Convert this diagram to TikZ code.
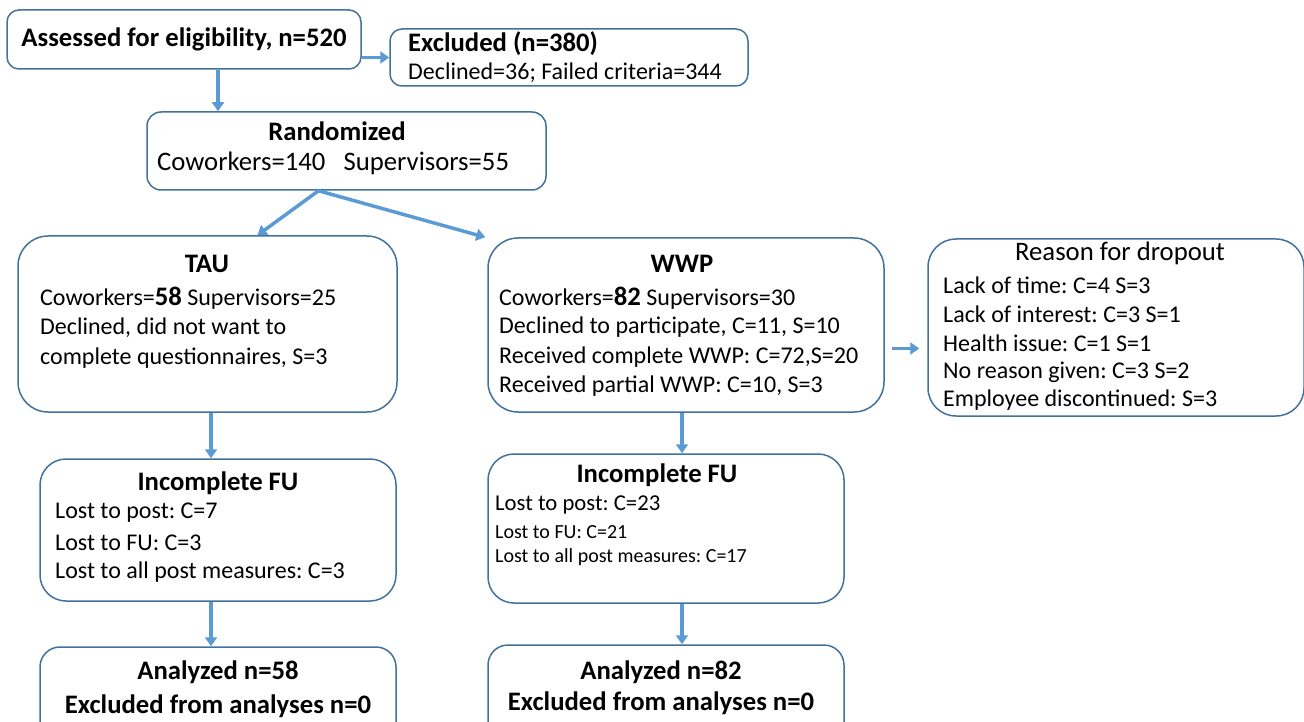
\documentclass[tikz,border=0pt]{standalone}
\usepackage{fontspec}
\setmainfont{Carlito}
\usetikzlibrary{arrows.meta,positioning,calc}
\frenchspacing

\definecolor{boxblue}{HTML}{41719C}
\definecolor{arrowblue}{HTML}{5B9BD5}
\newcommand{\bodyfont}{\fontsize{24}{30}\selectfont}
\newcommand{\headfont}{\fontsize{26.7}{32}\selectfont\bfseries}

\tikzset{
  box/.style={draw=boxblue, line width=1.5pt, fill=white, inner sep=0pt},
  arr/.style={-{Triangle[length=9pt,width=12pt]}, line width=3.5pt, arrowblue},
  txt/.style={inner sep=0pt, anchor=west, font=\bodyfont},
  ttl/.style={inner sep=0pt, font=\headfont}
}

\begin{document}
\begin{tikzpicture}[x=1pt,y=-1pt]
    \useasboundingbox (0,0) rectangle (1304,722);

    % Assessed
    \node[box, rounded corners=12pt, minimum width=354pt, minimum height=59pt, font=\headfont] (assess) at (184,39.5) {Assessed for eligibility, n=520};

    % Excluded
    \node[box, rounded corners=12pt, minimum width=358pt, minimum height=57pt] (excl) at (569,57.5) {};
    \node[ttl, anchor=west] (excl-t) at (408,44) {Excluded (n=380)};
    \node[txt] (excl-1) at (408,73) {Declined=36; Failed criteria=344};

    % Randomized
    \node[box, rounded corners=14pt, minimum width=399pt, minimum height=78pt] (rand) at (346.5,151) {};
    \node[ttl] (rand-t) at (337,131) {Randomized};
    \node[txt, font=\fontsize{26.7}{32}\selectfont] (rand-1) at (157,163) {Coworkers=140\ \ \ Supervisors=55};

    % TAU
    \node[box, rounded corners=30pt, minimum width=379pt, minimum height=176pt] (tau) at (207.5,324) {};
    \node[ttl] (tau-t) at (207,264) {TAU};
    \node[txt] (tau-1) at (40,298) {Coworkers={\headfont 58} Supervisors=25};
    \node[txt] (tau-2) at (40,328) {Declined, did not want to};
    \node[txt] (tau-3) at (40,358) {complete questionnaires, S=3};

    % WWP
    \node[box, rounded corners=30pt, minimum width=396pt, minimum height=174pt] (wwp) at (686,325) {};
    \node[ttl] (wwp-t) at (682,264) {WWP};
    \node[txt] (wwp-1) at (499,298) {Coworkers={\headfont 82} Supervisors=30};
    \node[txt] (wwp-2) at (499,327) {Declined to participate, C=11, S=10};
    \node[txt] (wwp-3) at (499,357) {Received complete WWP: C=72,S=20};
    \node[txt] (wwp-4) at (499,386) {Received partial WWP: C=10, S=3};

    % Reason for dropout
    \node[box, rounded corners=28pt, minimum width=376pt, minimum height=177pt] (reason) at (1116,327.5) {};
    \node[inner sep=0pt, font=\fontsize{26.7}{32}\selectfont] (reason-t) at (1120,253) {Reason for dropout};
    \node[txt] (reason-1) at (943,285) {Lack of time: C=4 S=3};
    \node[txt] (reason-2) at (943,314) {Lack of interest: C=3 S=1};
    \node[txt] (reason-3) at (943,343) {Health issue: C=1 S=1};
    \node[txt] (reason-4) at (943,372) {No reason given: C=3 S=2};
    \node[txt] (reason-5) at (943,400) {Employee discontinued: S=3};

    % Incomplete FU, TAU
    \node[box, rounded corners=26pt, minimum width=356pt, minimum height=142pt] (fuL) at (218,530) {};
    \node[ttl] (fuL-t) at (218,483) {Incomplete FU};
    \node[txt] (fuL-1) at (55,513) {Lost to post: C=7};
    \node[txt] (fuL-2) at (55,543) {Lost to FU: C=3};
    \node[txt] (fuL-3) at (55,572) {Lost to all post measures: C=3};

    % Incomplete FU, WWP
    \node[box, rounded corners=26pt, minimum width=356pt, minimum height=149pt] (fuR) at (666,528.5) {};
    \node[ttl] (fuR-t) at (657,475) {Incomplete FU};
    \node[txt, font=\fontsize{22.7}{28}\selectfont] (fuR-1) at (495,505) {Lost to post: C=23};
    \node[txt, font=\fontsize{20}{24}\selectfont] (fuR-2) at (495,532) {Lost to FU: C=21};
    \node[txt, font=\fontsize{20}{24}\selectfont] (fuR-3) at (495,557) {Lost to all post measures: C=17};

    % Analyzed
    \node[box, rounded corners=20pt, minimum width=356pt, minimum height=110pt] (anaL) at (218,702) {};
    \node[ttl] (anaL-t) at (218,672) {Analyzed n=58};
    \node[ttl] (anaL-1) at (218,706) {Excluded from analyses n=0};
    \node[box, rounded corners=20pt, minimum width=356pt, minimum height=110pt] (anaR) at (666,700) {};
    \node[ttl] (anaR-t) at (661,672) {Analyzed n=82};
    \node[ttl] (anaR-1) at (661,703) {Excluded from analyses n=0};

    % arrows
    \draw[arr] (excl.west -| assess.east) -- (excl.west);
    \draw[arr] ([xshift=34pt]assess.south) -- ([xshift=34pt]assess.south |- rand.north);
    \draw[arr] ([xshift=-28pt]rand.south) -- ([xshift=50pt]tau.north);
    \draw[arr] ([xshift=-28pt]rand.south) -- ([xshift=-2pt]wwp.north west);
    \draw[arr, shorten <=7pt, shorten >=8pt] ([yshift=-21pt]reason.west -| wwp.east) -- ([yshift=-21pt]reason.west);
    \draw[arr] ([xshift=3.5pt]tau.south) -- ([xshift=3.5pt]tau.south |- fuL.north);
    \draw[arr] ([xshift=-7pt]fuL.south) -- ([xshift=-7pt]fuL.south |- anaL.north);
    \draw[arr] ([xshift=-4pt]wwp.south) -- ([xshift=-4pt]wwp.south |- fuR.north);
    \draw[arr] ([xshift=16pt]fuR.south) -- ([xshift=16pt]fuR.south |- anaR.north);
\end{tikzpicture}
\end{document}
